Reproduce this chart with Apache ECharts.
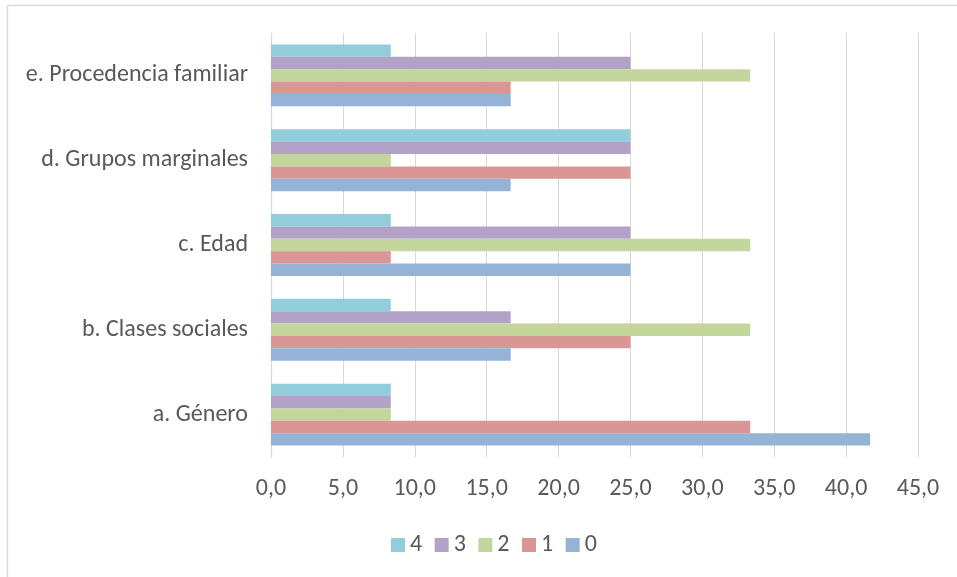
<!DOCTYPE html>
<html>
<head>
<meta charset="utf-8">
<script src="https://cdn.jsdelivr.net/npm/echarts@6/dist/echarts.min.js"></script>
<style>
html,body{margin:0;padding:0;background:#fff;}
#c{width:957px;height:577px;}
</style>
</head>
<body>
<div id="c"></div>
<script>
const categories = ['a. Género', 'b. Clases sociales', 'c. Edad', 'd. Grupos marginales', 'e. Procedencia familiar'];
const seriesNames = ['0', '1', '2', '3', '4'];
const legendOrder = ['4', '3', '2', '1', '0'];
const s0 = [41.67, 16.67, 25.0, 16.67, 16.67];
const s1 = [33.33, 25.0, 8.33, 25.0, 16.67];
const s2 = [8.33, 33.33, 33.33, 8.33, 33.33];
const s3 = [8.33, 16.67, 25.0, 25.0, 25.0];
const s4 = [8.33, 8.33, 8.33, 25.0, 8.33];
const seriesValues = [s0, s1, s2, s3, s4];
const colors = ['#95B3D7', '#D99694', '#C3D69B', '#B3A2C7', '#92CDDC'];

const FONT = 'Carlito, Lato, sans-serif';
const FS = 24;
const chart = echarts.init(document.getElementById('c'), null, {renderer: 'canvas'});
// ECharts draws the first series of a horizontal group on top, so add them from 4 down to 0
const order = [4, 3, 2, 1, 0];
chart.setOption({
  animation: false,
  textStyle: {fontFamily: FONT},
  graphic: [{
    type: 'rect', silent: true,
    shape: {x: 7.5, y: 5.5, width: 1000, height: 1000},
    style: {fill: 'none', stroke: '#d9d9d9', lineWidth: 1.5}
  }],
  grid: {left: 271, right: 39, top: 33, bottom: 120, containLabel: false},
  legend: {
    data: legendOrder,
    left: 386, top: 527,
    icon: 'rect', itemWidth: 14, itemHeight: 14, itemGap: 12.5,
    textStyle: {fontFamily: FONT, fontSize: FS, color: '#595959', lineHeight: 26}
  },
  xAxis: {
    type: 'value', min: 0, max: 45, interval: 5,
    axisLine: {show: false}, axisTick: {show: false},
    splitLine: {show: true, lineStyle: {color: '#d9d9d9', width: 1}},
    axisLabel: {
      fontFamily: FONT, fontSize: FS, color: '#595959', margin: 19, lineHeight: 26,
      formatter: v => v.toFixed(1).replace('.', ',')
    }
  },
  yAxis: {
    type: 'category', data: categories,
    axisLine: {show: true, lineStyle: {color: '#d9d9d9', width: 1.3}},
    axisTick: {show: false},
    axisLabel: {fontFamily: FONT, fontSize: FS, color: '#595959', margin: 23}
  },
  series: order.map(i => ({
    name: seriesNames[i], type: 'bar', data: seriesValues[i],
    barGap: '0%', barCategoryGap: '27%',
    itemStyle: {color: colors[i]}
  }))
});
</script>
</body>
</html>
